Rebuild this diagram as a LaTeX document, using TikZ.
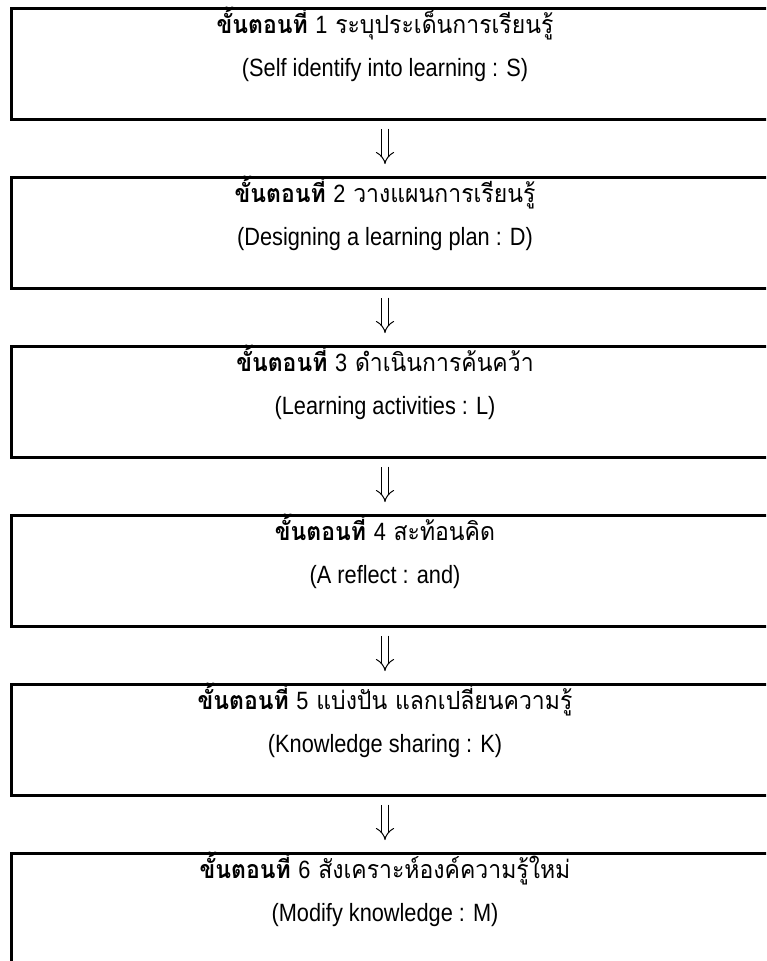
\documentclass[tikz,border=0pt]{standalone}
\usepackage{fontspec}
\newfontfamily\thaifont[Script=Thai,FakeStretch=0.92]{Loma}
\newfontfamily\latinfont[FakeStretch=0.87]{Liberation Sans}
\usetikzlibrary{arrows.meta}
\newcommand{\stpword}[1]{{\bfseries ขั้นตอนที่} {\latinfont #1}}
\begin{document}
\begin{tikzpicture}[x=1pt,y=-1pt,
  box/.style={draw, line width=2.6pt, minimum width=800pt, minimum height=111pt, anchor=north west, inner sep=0pt},
  hd/.style={font=\thaifont\fontsize{25}{30}\selectfont, inner sep=0pt, anchor=base},
  en/.style={font=\latinfont\fontsize{25}{30}\selectfont, inner sep=0pt, anchor=base},
  conn/.style={double, double distance=5.5pt, line width=1pt, -{Implies}, shorten <=8pt, shorten >=12pt}]
\useasboundingbox (0,0) rectangle (766,961);
\clip (0,0) rectangle (766,961);
\coordinate (ax) at (385,0);
\node[box] (b1) at (10,7) {};
\node[box] (b2) at (10,176) {};
\node[box] (b3) at (10,345) {};
\node[box] (b4) at (10,514) {};
\node[box] (b5) at (10,683) {};
\node[box] (b6) at (10,852) {};
\node[hd] (h1) at (385,33) {\stpword{1} ระบุประเด็นการเรียนรู้};
\node[en] (e1) at (385,76) {(Self identify into learning : S)};
\node[hd] (h2) at (385,202) {\stpword{2} วางแผนการเรียนรู้};
\node[en] (e2) at (385,245) {(Designing a learning plan : D)};
\node[hd] (h3) at (385,371) {\stpword{3} ดำเนินการค้นคว้า};
\node[en] (e3) at (385,414) {(Learning activities : L)};
\node[hd] (h4) at (385,540) {\stpword{4} สะท้อนคิด};
\node[en] (e4) at (385,583) {(A reflect : and)};
\node[hd] (h5) at (385,709) {\stpword{5} แบ่งปัน แลกเปลี่ยนความรู้};
\node[en] (e5) at (385,752) {(Knowledge sharing : K)};
\node[hd] (h6) at (385,878) {\stpword{6} สังเคราะห์องค์ความรู้ใหม่};
\node[en] (e6) at (385,921) {(Modify knowledge : M)};
\draw[conn] (b1.south -| ax) -- (b2.north -| ax);
\draw[conn] (b2.south -| ax) -- (b3.north -| ax);
\draw[conn] (b3.south -| ax) -- (b4.north -| ax);
\draw[conn] (b4.south -| ax) -- (b5.north -| ax);
\draw[conn] (b5.south -| ax) -- (b6.north -| ax);
\end{tikzpicture}
\end{document}
